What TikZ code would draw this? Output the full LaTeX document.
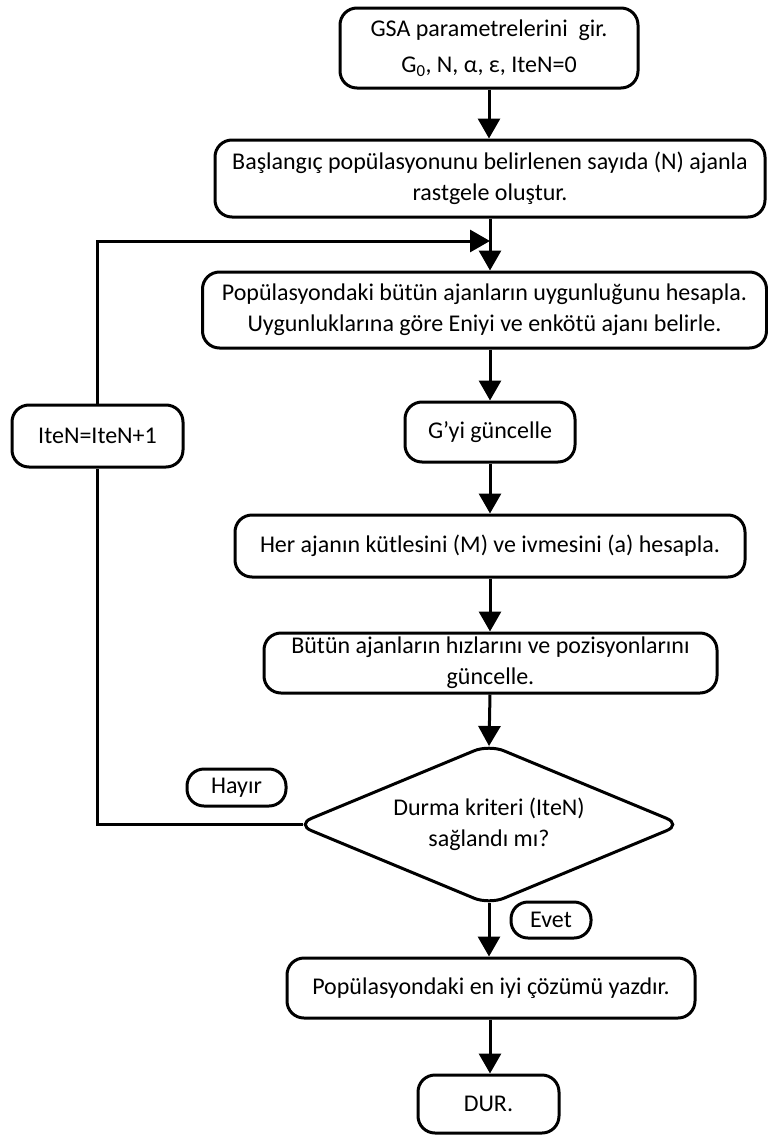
\documentclass[tikz,border=0pt]{standalone}
\usepackage{fontspec}
\setmainfont{Carlito}
\usetikzlibrary{shapes.geometric,arrows.meta}
\begin{document}
\begin{tikzpicture}[x=1pt,y=-1pt,
  every node/.style={font=\fontsize{24}{31}\selectfont, align=center, inner sep=0pt},
  box/.style={draw, line width=3pt, rounded corners=17pt},
  lbl/.style={draw, line width=3pt, rounded corners=17pt},
  dia/.style={draw, line width=3pt, diamond, rounded corners=16pt},
  conn/.style={line width=3pt},
  arr/.style={line width=3pt, -{Triangle[length=20pt,width=22pt]}}]
\useasboundingbox (0,0) rectangle (768,1135);
\node[box, minimum width=298pt, minimum height=80pt] (b1) at (489,48)
  {GSA parametrelerini\ \ gir.\\[5pt] G\textsubscript{0}, N, α, ε, IteN=0};
\node[box, minimum width=550pt, minimum height=77pt] (b2) at (490,178.5)
  {Başlangıç popülasyonunu belirlenen sayıda (N) ajanla\\ rastgele oluştur.};
\node[box, minimum width=564pt, minimum height=76pt] (b3) at (484.5,310)
  {Popülasyondaki bütün ajanların uygunluğunu hesapla.\\ Uygunluklarına göre Eniyi ve enkötü ajanı belirle.};
\node[box, minimum width=170pt, minimum height=60pt] (b4) at (490,432) {G’yi güncelle};
\node[box, minimum width=510pt, minimum height=62pt] (b5) at (490,546)
  {Her ajanın kütlesini (M) ve ivmesini (a) hesapla.};
\node[box, minimum width=453pt, minimum height=60pt] (b6) at (490.5,663)
  {Bütün ajanların hızlarını ve pozisyonlarını\\ güncelle.};
\node[dia, minimum width=386pt, minimum height=161pt, aspect=2.4] (d) at (489,824.5)
  {Durma kriteri (IteN)\\ sağlandı mı?};
\node[box, minimum width=408pt, minimum height=60pt] (b7) at (491,988)
  {Popülasyondaki en iyi çözümü yazdır.};
\node[box, minimum width=141pt, minimum height=58pt] (dur) at (488.5,1104) {DUR.};
\node[box, minimum width=171pt, minimum height=62pt] (it) at (97.5,436) {IteN=IteN+1};
\node[lbl, minimum width=99pt, minimum height=37pt] (hay) at (236.5,787.5) {Hayır};
\node[lbl, minimum width=80pt, minimum height=36pt] (evet) at (551,920) {Evet};
\coordinate (m) at (490,241);
\coordinate (dw) at ([xshift=8.5pt]d.west);
\draw[arr] (b1.south) -- (b1.south |- b2.north);
\draw[arr] (b2.south -| m) -- (b3.north -| m);
\draw[arr] (b3.south -| m) -- (b4.north);
\draw[arr] (b4.south) -- (b5.north);
\draw[arr] (b5.south) -- (b5.south |- b6.north);
\draw[arr] (b6.south -| m) -- ([yshift=-3.5pt]d.north);
\draw[arr] ([yshift=3.5pt]d.south) -- (d.south |- b7.north);
\draw[arr] (b7.south -| m) -- (m |- dur.north);
\draw[conn] (dw) -| (it.south);
\draw[arr] (it.north) |- (m);
\end{tikzpicture}
\end{document}
